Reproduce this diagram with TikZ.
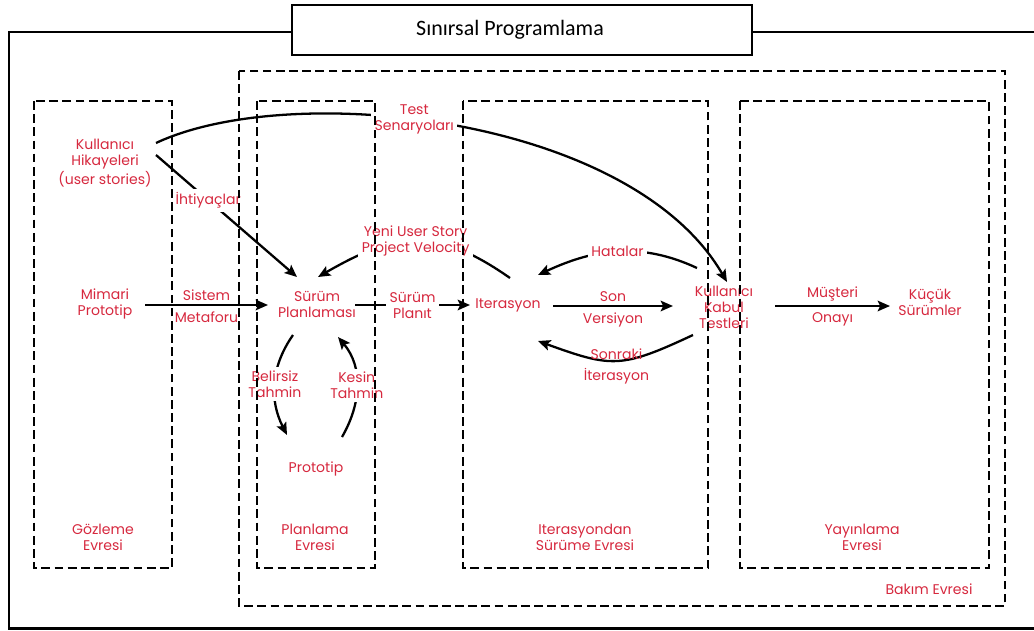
\documentclass[tikz,border=0pt]{standalone}
\usepackage{fontspec}
\setmainfont{Poppins}
\newfontfamily\baslikfont{Carlito}
\usepackage{tikz}
\usetikzlibrary{calc,arrows.meta}
\definecolor{evrekirmizi}{RGB}{214,40,62}
\tikzset{
  yazi/.style={text=evrekirmizi, align=center, inner sep=1pt,
    font=\fontsize{8}{9.1}\selectfont},
  bosluk/.style={yazi, fill=white, inner sep=2pt},
  akis/.style={line width=1.3pt, -{Stealth[length=7pt,width=6pt,inset=1.4pt]}},
  kesik/.style={line width=1.5pt, dash pattern=on 5pt off 2.5pt}
}

\begin{document}
\begin{tikzpicture}[x=0.02cm, y=0.02cm]
            \useasboundingbox (0,0) rectangle (1034,630);
            \draw[line width=1.3pt] (1034,598) -- (9,598) -- (9,1.5) -- (1034,1.5);
            \node[draw, line width=1.3pt, fill=white, minimum width=9.2cm, minimum height=1cm,
                  font=\baslikfont\fontsize{12.5}{14}\selectfont] (baslik) at (522,600) {\hspace*{-0.48cm}Sınırsal Programlama};

            \node[yazi] (us) at (105,467) {Kullanıcı\\Hikayeleri\\(user stories)};
            \node[yazi] (mp) at (105,326) {Mimari\\Prototip};
            \node[yazi] (sp) at (317,326) {Sürüm\\Planlaması};
            \node[yazi] (it) at (508,325) {Iterasyon};
            \node[yazi] (kt) at (724,323) {Kullanıcı\\Kabul\\Testleri};
            \node[yazi] (ks) at (930,328) {Küçük\\Sürümler};
            \node[yazi] (pr) at (316,161) {Prototip};

            \node[yazi] (gozleme) at (103,93) {Gözleme\\Evresi};
            \node[yazi] (planlama) at (315,93) {Planlama\\Evresi};
            \node[yazi] (surume) at (585,93) {Iterasyondan\\Sürüme Evresi};
            \node[yazi] (yayinlama) at (862,93) {Yayınlama\\Evresi};
            \node[yazi] (bakim) at (929,41) {Bakım Evresi};

            \draw[akis] ($(mp)+(40,-1)$) -- ($(sp)+(-49,-1)$)
                node[yazi, midway, above=1pt] {Sistem} node[yazi, midway, below=2pt] {Metaforu};
            \draw[akis] ($(sp)+(38,-1)$) -- node[bosluk] {Sürüm\\Planıt} ($(it)+(-38,0)$);
            \draw[akis] ($(it)+(45,-1)$) -- ($(kt)+(-51,1)$)
                node[yazi, midway, above=1pt] {Son} node[yazi, midway, below=2pt] {Versiyon};
            \draw[akis] ($(kt)+(51,1)$) -- ($(ks)+(-40,-4)$)
                node[yazi, midway, above=1pt] {Müşteri} node[yazi, midway, below=2pt] {Onayı};

            \draw[akis] ($(us)+(51,8)$) -- node[bosluk, pos=0.37] {İhtiyaçlar} ($(sp)+(-20,27)$);
            \draw[akis] ($(us)+(51,20)$) .. controls +(134,63) and +(-97,167) ..
                node[bosluk, pos=0.44] {Test\\Senaryoları} ($(kt)+(3,25)$);
            \draw[akis] ($(it)+(2,27)$) to[out=145, in=30, looseness=1.2]
                node[bosluk] {Yeni User Story\\Project Velocity} ($(sp)+(1,27)$);
            \draw[akis] ($(kt)+(-27,39)$) to[out=155, in=25] node[bosluk] {Hatalar} ($(it)+(30,30)$);
            \draw[akis] ($(kt)+(-31,-28)$) to[out=205, in=-20, looseness=1.3]
                node[yazi, above=-1pt] {Sonraki} node[yazi, below=3pt] {İterasyon} ($(it)+(30,-36)$);
            \draw[akis] ($(sp)+(-24,-31)$) to[out=235, in=117] node[bosluk] {Belirsiz\\Tahmin} ($(pr)+(-29,34)$);
            \draw[akis] ($(pr)+(26,32)$) to[out=60, in=-50] node[bosluk] {Kesin\\Tahmin} ($(sp)+(21,-33)$);

            \draw[kesik] (239,559) rectangle (1005,24);
            \draw[kesik] (34,529) rectangle (172,62);
            \draw[kesik] (257,529) rectangle (375,62);
            \draw[kesik] (463,529) rectangle (708,62);
            \draw[kesik] (740,529) rectangle (989,62);
\end{tikzpicture}
\end{document}
